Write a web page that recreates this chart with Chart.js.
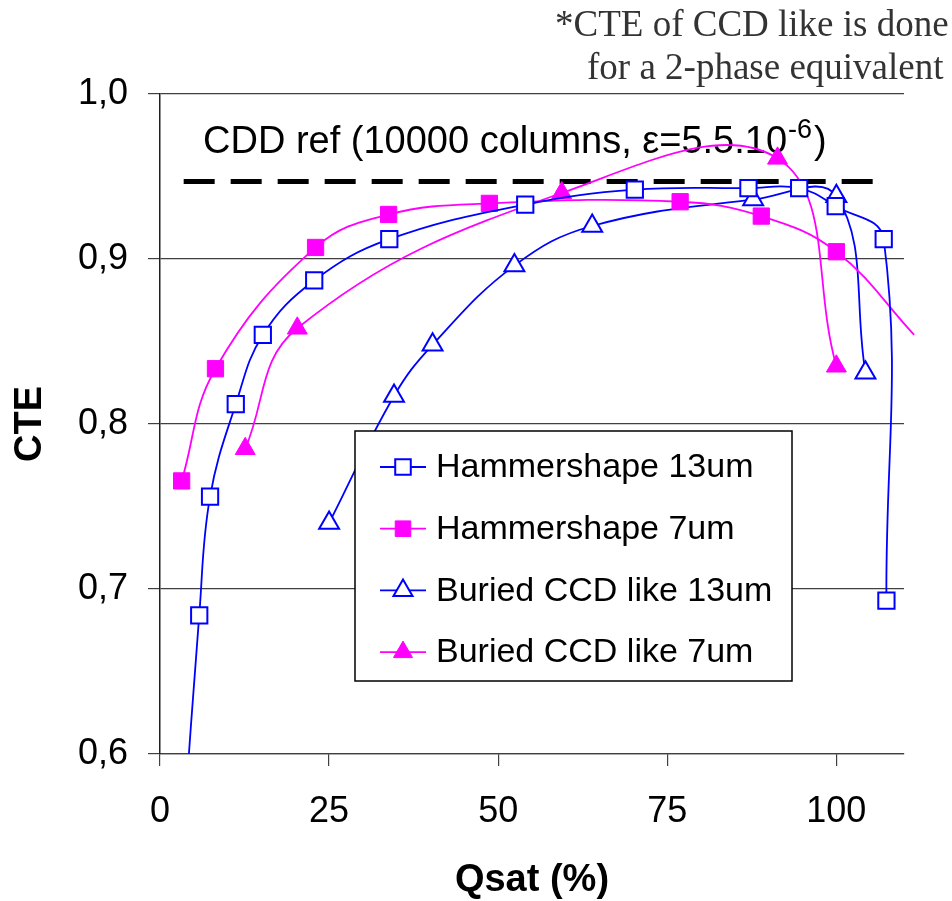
<!DOCTYPE html>
<html>
<head>
<meta charset="utf-8">
<script src="https://cdn.jsdelivr.net/npm/chart.js@4.4.1/dist/chart.umd.min.js"></script>
<style>
  html, body { margin: 0; padding: 0; background: #fff; }
  #wrap { width: 952px; height: 901px; }
</style>
</head>
<body>
<div id="wrap"><canvas id="cteChart" width="952" height="901"></canvas></div>
<script>
// series
var seriesNames = ['Hammershape 13um', 'Hammershape 7um', 'Buried CCD like 13um', 'Buried CCD like 7um'];

var qsatHammer13 = [3.4, 5.8, 7.4, 11.2, 15.2, 22.8, 33.9, 54.0, 70.2, 87.0, 94.5, 99.9, 107.0, 107.4];
var cteHammer13 = [0.55, 0.684, 0.756, 0.812, 0.854, 0.887, 0.912, 0.933, 0.942, 0.943, 0.943, 0.932, 0.912, 0.693];

var qsatHammer7 = [3.2, 8.2, 23.0, 33.8, 48.7, 76.9, 88.9, 100.0, 111.5];
var cteHammer7 = [0.7655, 0.8335, 0.907, 0.927, 0.9337, 0.9347, 0.926, 0.9044, 0.854];

var qsatBuried13 = [25.0, 34.6, 40.3, 52.4, 63.9, 87.7, 100.0, 104.3];
var cteBuried13 = [0.740, 0.817, 0.848, 0.896, 0.920, 0.936, 0.938, 0.831];

var qsatBuried7 = [12.6, 20.3, 59.4, 91.3, 100.0];
var cteBuried7 = [0.785, 0.858, 0.940, 0.961, 0.835];

var refQsat = [3.5, 105.6];
var refCte = 0.947;

var xTickValues = [0, 25, 50, 75, 100];
var yTickValues = [0.6, 0.7, 0.8, 0.9, 1.0];

var BLUE = '#0000ff';
var MAGENTA = '#ff00ff';
var SANS = 'Arial, "Liberation Sans", sans-serif';
var SERIF = '"Times New Roman", "Liberation Serif", serif';

function toPoints(xs, ys) {
  return xs.map(function (x, i) { return { x: x, y: ys[i] }; });
}

var markerStyles = [
  { color: BLUE, style: 'rect', fill: '#ffffff' },
  { color: MAGENTA, style: 'rect', fill: MAGENTA },
  { color: BLUE, style: 'triangle', fill: '#ffffff' },
  { color: MAGENTA, style: 'triangle', fill: MAGENTA }
];

function seriesDataset(i, xs, ys) {
  var m = markerStyles[i];
  return {
    label: seriesNames[i],
    data: toPoints(xs, ys),
    borderColor: m.color,
    borderWidth: 1.8,
    tension: 0.4,
    fill: false,
    pointStyle: m.style,
    pointRadius: xs.map(function (x) { return x > 110 ? 0 : 11.5; }),
    pointBackgroundColor: m.fill,
    pointBorderColor: m.color,
    pointBorderWidth: m.fill === '#ffffff' ? 2 : 1
  };
}

var datasets = [
  seriesDataset(0, qsatHammer13, cteHammer13),
  seriesDataset(1, qsatHammer7, cteHammer7),
  seriesDataset(2, qsatBuried13, cteBuried13),
  seriesDataset(3, qsatBuried7, cteBuried7),
  {
    label: 'CDD ref',
    data: refQsat.map(function (x) { return { x: x, y: refCte }; }),
    borderColor: '#000000',
    borderWidth: 5,
    borderDash: [31, 16],
    borderCapStyle: 'butt',
    pointRadius: 0,
    tension: 0
  }
];
// the magenta square curve runs a little past the right edge in the original
datasets[1].clip = { left: 0, top: 0, right: 12, bottom: 0 };

var annotations = {
  id: 'annotations',
  beforeDatasetsDraw: function (chart) {
    var ctx = chart.ctx;
    ctx.save();
    ctx.fillStyle = '#000';
    ctx.textAlign = 'left';
    ctx.textBaseline = 'alphabetic';
    ctx.font = '38px ' + SANS;
    var main = 'CDD ref (10000 columns, \u03b5=5.5.10';
    var x = 203;
    ctx.fillText(main, x, 153);
    x += ctx.measureText(main).width;
    ctx.font = '27px ' + SANS;
    ctx.fillText('-6', x + 1, 138);
    x += ctx.measureText('-6').width + 3;
    ctx.font = '38px ' + SANS;
    ctx.fillText(')', x, 153);

    ctx.fillStyle = '#333';
    ctx.font = '37px ' + SERIF;
    ctx.fillText('*CTE of CCD like is done', 555, 36);
    ctx.fillText('for a 2-phase equivalent', 587, 79);
    ctx.restore();
  },
  afterDatasetsDraw: function (chart) {
    var ctx = chart.ctx;
    ctx.save();
    ctx.fillStyle = '#fff';
    ctx.strokeStyle = '#000';
    ctx.lineWidth = 1.5;
    ctx.fillRect(355, 431, 437, 250);
    ctx.strokeRect(355, 431, 437, 250);
    ctx.font = '34px ' + SANS;
    ctx.textBaseline = 'middle';
    ctx.textAlign = 'left';
    for (var i = 0; i < seriesNames.length; i++) {
      var y = 467 + i * 61.7;
      var m = markerStyles[i];
      ctx.strokeStyle = m.color;
      ctx.lineWidth = 1.8;
      ctx.beginPath();
      ctx.moveTo(380, y);
      ctx.lineTo(426, y);
      ctx.stroke();
      ctx.fillStyle = m.fill;
      ctx.lineWidth = m.fill === '#ffffff' ? 2 : 1;
      Chart.helpers.drawPoint(ctx, { pointStyle: m.style, radius: 11, rotation: 0, borderWidth: ctx.lineWidth }, 403, y);
      ctx.fillStyle = '#000';
      ctx.fillText(seriesNames[i], 436, y + 1);
    }
    ctx.restore();
  }
};

new Chart(document.getElementById('cteChart'), {
  type: 'line',
  data: { datasets: datasets },
  options: {
    responsive: false,
    animation: false,
    layout: { padding: { top: 94, right: 48, bottom: 0, left: 0 } },
    plugins: { legend: { display: false }, tooltip: { enabled: false } },
    scales: {
      x: {
        type: 'linear',
        min: 0,
        max: 110,
        afterBuildTicks: function (scale) {
          scale.ticks = xTickValues.map(function (v) { return { value: v }; });
        },
        afterFit: function (scale) { scale.height = 147; },
        grid: { drawOnChartArea: false, drawTicks: true, tickLength: 12, color: '#404040', lineWidth: 1.2 },
        border: { display: true, color: '#404040', width: 1.2 },
        ticks: { color: '#000', font: { family: SANS, size: 36 }, padding: 24, maxRotation: 0 },
        title: { display: true, text: 'Qsat (%)', color: '#000', font: { family: SANS, size: 38, weight: 'bold', lineHeight: 1.1 }, padding: { top: 0, bottom: 0 } }
      },
      y: {
        type: 'linear',
        min: 0.6,
        max: 1.0,
        afterBuildTicks: function (scale) {
          scale.ticks = yTickValues.map(function (v) { return { value: v }; });
        },
        afterFit: function (scale) { scale.width = 160; },
        grid: { drawOnChartArea: true, drawTicks: true, tickLength: 12, color: '#404040', lineWidth: 1.2 },
        border: { display: true, color: '#202020', width: 1.5 },
        ticks: {
          color: '#000',
          font: { family: SANS, size: 36 },
          padding: 20,
          callback: function (v) { return v.toFixed(1).replace('.', ','); }
        },
        title: { display: true, text: 'CTE', color: '#000', font: { family: SANS, size: 38, weight: 'bold', lineHeight: 1.2 }, padding: { top: 8, bottom: 0 } }
      }
    }
  },
  plugins: [annotations]
});
</script>
</body>
</html>
